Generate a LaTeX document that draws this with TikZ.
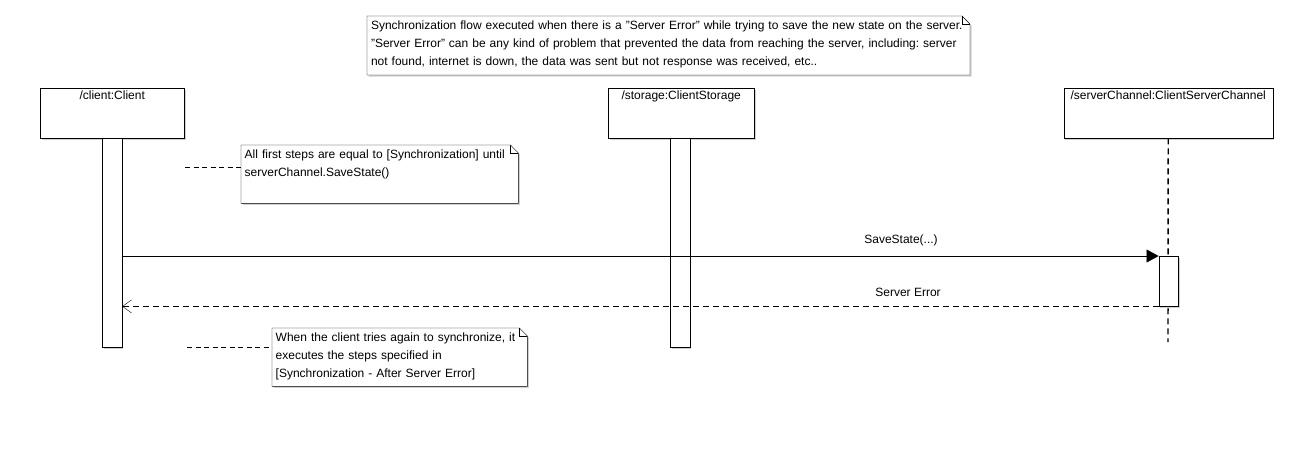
\documentclass[tikz,border=0pt]{standalone}
\usepackage{fontspec}
\setmainfont{Liberation Sans}
\usetikzlibrary{arrows.meta,shadows}
\pgfdeclarelayer{background}
\pgfsetlayers{background,main}

\tikzset{
  softshadow/.style={drop shadow={shadow xshift=1.5pt,shadow yshift=-1.5pt,fill=black!18,opacity=1}},
  lifebox/.style={draw,fill=white,softshadow,anchor=north west,inner xsep=2pt,inner ysep=2pt,
    text height=9pt,text depth=37pt},
  actbar/.style={draw,fill=white,softshadow,anchor=north,minimum width=19.5pt,inner sep=0pt},
  notetext/.style={anchor=north west,align=left,inner xsep=3.5pt,inner ysep=4pt,
    text height=9pt,text depth=41pt},
  lifeline/.style={line width=1.4pt,dash pattern=on 6pt off 4pt},
  notelink/.style={dash pattern=on 5pt off 3.5pt},
  call/.style={-{Triangle[length=12pt,width=13pt]}},
  reply/.style={dash pattern=on 6pt off 4pt,-{Straight Barb[length=9pt,width=13pt]}},
}

% note with the folded corner
\newcommand{\notefold}[1]{%
  \begin{pgfonlayer}{background}
  \draw[fill=white,softshadow] (#1.north west) -- ([xshift=-8pt]#1.north east)
    -- ([yshift=-8pt]#1.north east) -- (#1.south east) -- (#1.south west) -- cycle;
  \end{pgfonlayer}
  \draw ([xshift=-8pt]#1.north east) -- ([xshift=-8pt,yshift=-8pt]#1.north east)
    -- ([yshift=-8pt]#1.north east);
}

\begin{document}
\frenchspacing
\begin{tikzpicture}[x=1pt,y=-1pt,line width=1pt,
  every node/.style={font=\fontsize{12}{18}\selectfont}]
\useasboundingbox (0,0) rectangle (1313,451);

% header note
\node[notetext,text width=595pt] (topnote) at (367,16)
  {Synchronization flow executed when there is a "Server Error" while trying to save the new state on the server.\\
   "Server Error" can be any kind of problem that prevented the data from reaching the server, including: server\\
   not found, internet is down, the data was sent but not response was received, etc..};
\notefold{topnote}

% lifelines
\node[lifebox,minimum width=144pt] (client) at (40,88) {/client:Client};
\node[lifebox,minimum width=146pt] (storage) at (608,88) {/storage:ClientStorage};
\node[lifebox,minimum width=209pt] (server) at (1063.5,88) {/serverChannel:ClientServerChannel};

\node[actbar,minimum height=209pt] (clientbar) at (client.south) {};
\node[actbar,minimum height=209pt] (storagebar) at ([xshift=-1pt]storage.south) {};

\coordinate (serverend) at (1168,342);
\draw[lifeline] (server.south) -- (serverend);
\node[actbar,minimum height=50pt] (serverbar) at (1168.5,256) {};

% messages
\draw[call] (clientbar.east |- serverbar.north west) -- (serverbar.north west);
\node (savestate) at (901,240) {SaveState(...)};
\draw[reply] (serverbar.south west) -- (clientbar.east |- serverbar.south west);
\node (servererror) at (908,292) {Server Error};

% notes
\node[notetext,text width=270pt] (firstnote) at (241,145)
  {All first steps are equal to [Synchronization] until\\ serverChannel.SaveState()};
\notefold{firstnote}
\coordinate (firstlink) at (185,167);
\draw[notelink] (firstlink) -- (firstnote.west |- firstlink);

\node[notetext,text width=248pt] (againnote) at (272,328)
  {When the client tries again to synchronize, it\\ executes the steps specified in\\{}[Synchronization - After Server Error]};
\notefold{againnote}
\coordinate (againlink) at (187,347);
\draw[notelink] (againlink) -- (againnote.west |- againlink);
\end{tikzpicture}
\end{document}
